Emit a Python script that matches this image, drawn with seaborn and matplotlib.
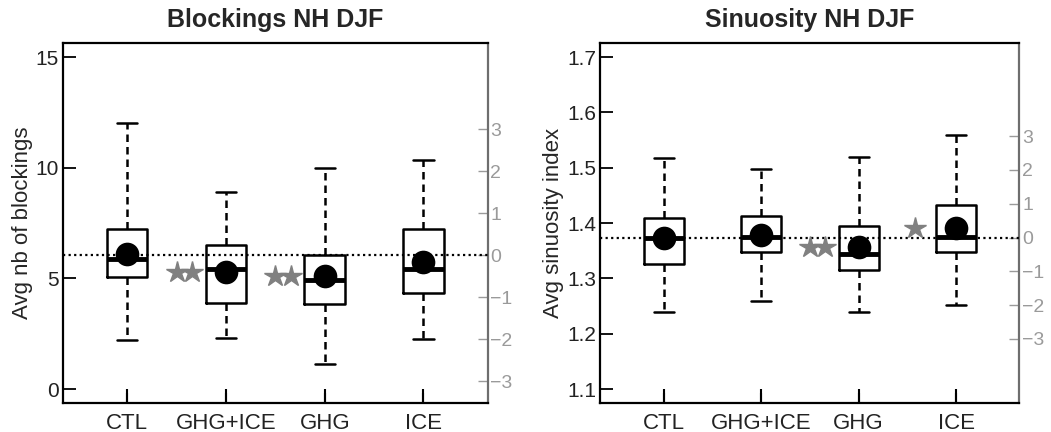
import numpy as np
import pandas as pd
import matplotlib
matplotlib.use("Agg")
import matplotlib.pyplot as plt
import seaborn as sns

RUNS = ["CTL", "GHG+ICE", "GHG", "ICE"]

# Blockings NH DJF: whisker low, q1, median, q3, whisker high, mean
BLK_LOW = [2.2, 2.3, 1.15, 2.25]
BLK_Q1 = [5.05, 3.9, 3.85, 4.35]
BLK_MED = [5.9, 5.45, 4.95, 5.45]
BLK_Q3 = [7.25, 6.5, 6.05, 7.25]
BLK_HIGH = [12.0, 8.9, 10.0, 10.35]
BLK_MEAN = [6.1, 5.3, 5.1, 5.75]
BLK_SIG = ["", "**", "**", ""]
BLK_REF = 6.05   # CTL level (dotted line, zero of the anomaly axis)
BLK_STD = 1.9    # one unit of the anomaly axis

# Sinuosity NH DJF
SIN_LOW = [1.240, 1.260, 1.239, 1.253]
SIN_Q1 = [1.327, 1.348, 1.315, 1.348]
SIN_MED = [1.374, 1.375, 1.345, 1.375]
SIN_Q3 = [1.410, 1.412, 1.395, 1.433]
SIN_HIGH = [1.517, 1.498, 1.520, 1.559]
SIN_MEAN = [1.374, 1.378, 1.357, 1.392]
SIN_SIG = ["", "", "**", "*"]
SIN_REF = 1.374
SIN_STD = 0.061

ANOM_TICKS = [-3, -2, -1, 0, 1, 2, 3]


def draw_panel(ax, title, ylabel, ylim, yticks, low, q1, med, q3, high, mean,
               sig, ref, std, fmt):
    # anomaly axis (in units of the CTL standard deviation), kept underneath
    ax2 = ax.twinx()
    ax2.set_ylim((ylim[0] - ref) / std, (ylim[1] - ref) / std)
    ax2.set_yticks(ANOM_TICKS)
    ax2.tick_params(direction="in", length=7, width=1.0, colors="#9a9a9a",
                    labelsize=14, pad=2, right=True)
    for side in ["left", "top", "bottom"]:
        ax2.spines[side].set_visible(False)
    ax2.spines["right"].set_color("#6e6e6e")
    ax2.spines["right"].set_linewidth(1.6)
    ax.set_zorder(ax2.get_zorder() + 1)
    ax.patch.set_visible(False)

    # five summary values per run -> seaborn recovers them exactly with whis=(0, 100)
    rows = []
    for i, run in enumerate(RUNS):
        for v in (low[i], q1[i], med[i], q3[i], high[i]):
            rows.append({"run": run, "value": v})
    df = pd.DataFrame(rows)

    ax.axhline(ref, color="black", linestyle=(0, (1, 1.5)), linewidth=1.6, zorder=1)

    sns.boxplot(
        data=df, x="run", y="value", order=RUNS, whis=(0, 100), width=0.41,
        fill=False, color="black", linewidth=1.8,
        whiskerprops=dict(linestyle=(0, (3, 2))),
        medianprops=dict(linewidth=3.5),
        ax=ax,
    )
    sns.pointplot(
        x=RUNS, y=mean, order=RUNS, color="black", linestyle="none",
        markersize=15, errorbar=None, zorder=6, ax=ax,
    )
    for i, s in enumerate(sig):
        if not s:
            continue
        n = len(s)
        xs = i - 0.42 + (np.arange(n) - (n - 1) / 2) * 0.16
        ax.plot(xs, [mean[i]] * n, marker="*", markersize=16, color="#808080",
                linestyle="none", zorder=6)

    ax.set_xlim(-0.65, 3.65)
    ax.set_ylim(*ylim)
    ax.set_xticks(range(len(RUNS)), RUNS)
    ax.set_yticks(yticks)
    ax.set_yticklabels([fmt.format(t) for t in yticks])
    ax.set_xlabel("")
    ax.set_ylabel(ylabel, fontsize=16, labelpad=2)
    ax.set_title(title, fontsize=18, fontweight="bold", pad=12)
    for side in ["left", "top", "bottom"]:
        ax.spines[side].set_color("black")
        ax.spines[side].set_linewidth(1.6)
    ax.spines["right"].set_visible(False)

    ax.tick_params(axis="y", which="major", direction="in", length=9, width=1.3,
                   labelsize=15, pad=3, color="black", labelcolor="#222222",
                   left=True, right=False)
    ax.tick_params(axis="x", which="major", direction="in", length=10, width=1.5,
                   labelsize=16, pad=7, color="black", labelcolor="#222222",
                   bottom=True, top=False)
    # category tick marks (inward, at the bottom spine)
    ax.vlines(range(len(RUNS)), 0, 0.028, transform=ax.get_xaxis_transform(),
              color="black", linewidth=1.5, clip_on=False, zorder=7)


sns.set_theme(style="white")
plt.rcParams["font.family"] = ["Liberation Sans", "DejaVu Sans"]

fig = plt.figure(figsize=(10.51, 4.32), dpi=100)
ax_blk = fig.add_axes([0.060, 0.067, 0.404, 0.833])
ax_sin = fig.add_axes([0.571, 0.067, 0.399, 0.833])

draw_panel(ax_blk, "Blockings NH DJF", "Avg nb of blockings", (-0.625, 15.625),
           [0, 5, 10, 15], BLK_LOW, BLK_Q1, BLK_MED, BLK_Q3, BLK_HIGH, BLK_MEAN,
           BLK_SIG, BLK_REF, BLK_STD, "{:.0f}")
draw_panel(ax_sin, "Sinuosity NH DJF", "Avg sinuosity index", (1.075, 1.725),
           [1.1, 1.2, 1.3, 1.4, 1.5, 1.6, 1.7], SIN_LOW, SIN_Q1, SIN_MED, SIN_Q3,
           SIN_HIGH, SIN_MEAN, SIN_SIG, SIN_REF, SIN_STD, "{:.1f}")

fig.savefig("out.png", dpi=100)
